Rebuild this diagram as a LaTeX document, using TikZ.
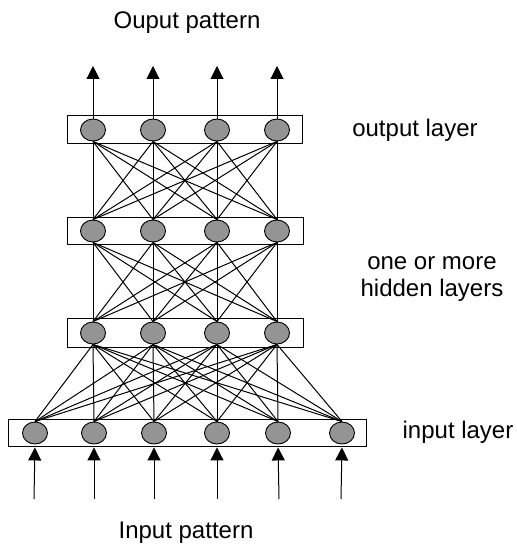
\documentclass[tikz,border=0pt]{standalone}
\usepackage{fontspec}
\setmainfont{Liberation Sans}
\usetikzlibrary{arrows.meta,shapes.geometric}
\begin{document}
\begin{tikzpicture}[x=1bp,y=-1bp,
  neuron/.style={ellipse,draw=black,fill=black!42,line width=0.9bp,minimum width=25bp,minimum height=22bp,inner sep=0pt},
  layerbox/.style={rectangle,draw=black,line width=1bp,inner sep=0pt},
  conn/.style={draw=black,line width=1bp},
  sig/.style={draw=black,line width=1bp,-{Triangle[width=13bp,length=13bp]}},
  lbl/.style={font=\fontsize{24bp}{27bp}\selectfont,align=center,inner sep=0pt}]
\useasboundingbox (0,0) rectangle (517,549);
% layer boxes
\node[layerbox,minimum width=234bp,minimum height=28bp] (bo) at (185,130) {};
\node[layerbox,minimum width=235bp,minimum height=27bp] (bh2) at (185.5,230.5) {};
\node[layerbox,minimum width=235bp,minimum height=29bp] (bh1) at (185.5,332.5) {};
\node[layerbox,minimum width=357bp,minimum height=27bp] (bi) at (187.5,432.5) {};
% neurons
\foreach \x [count=\k] in {93,153,217,277} {
  \node[neuron] (o\k) at (\x,130) {};
  \node[neuron] (hb\k) at (\x,231) {};
  \node[neuron] (ha\k) at (\x,333) {};
}
\foreach \x [count=\k] in {35,94,154,217,278,342} {
  \node[neuron] (i\k) at (\x,433) {};
}
% connections
\foreach \a in {1,...,4} {
  \foreach \b in {1,...,4} {
    \draw[conn] (hb\a.north) -- (o\b.south);
    \draw[conn] (ha\a.north) -- (hb\b.south);
  }
}
\foreach \a in {1,...,6} {
  \foreach \b in {1,...,4} {
    \draw[conn] (i\a.north) -- (ha\b.south);
  }
}
% output arrows
\foreach \x [count=\k] in {93,153,217,277} {
  \coordinate (ot\k) at (\x,66);
  \draw[sig] (o\k.north) -- (ot\k);
}
% input arrows
\foreach \x [count=\k] in {34,94,154,217,279,341} {
  \coordinate (ib\k) at (\x,499);
  \draw[sig,shorten >=3bp] (ib\k) -- (i\k.south);
}
% labels
\node[lbl] (top) at (187,23) {Ouput pattern};
\node[lbl] (lo) at (415,130) {output layer};
\node[lbl] (lh) at (432,279) {one or more\\hidden layers};
\node[lbl] (li) at (458,432) {input layer};
\node[lbl] (bot) at (186,533) {Input pattern};
\end{tikzpicture}
\end{document}
